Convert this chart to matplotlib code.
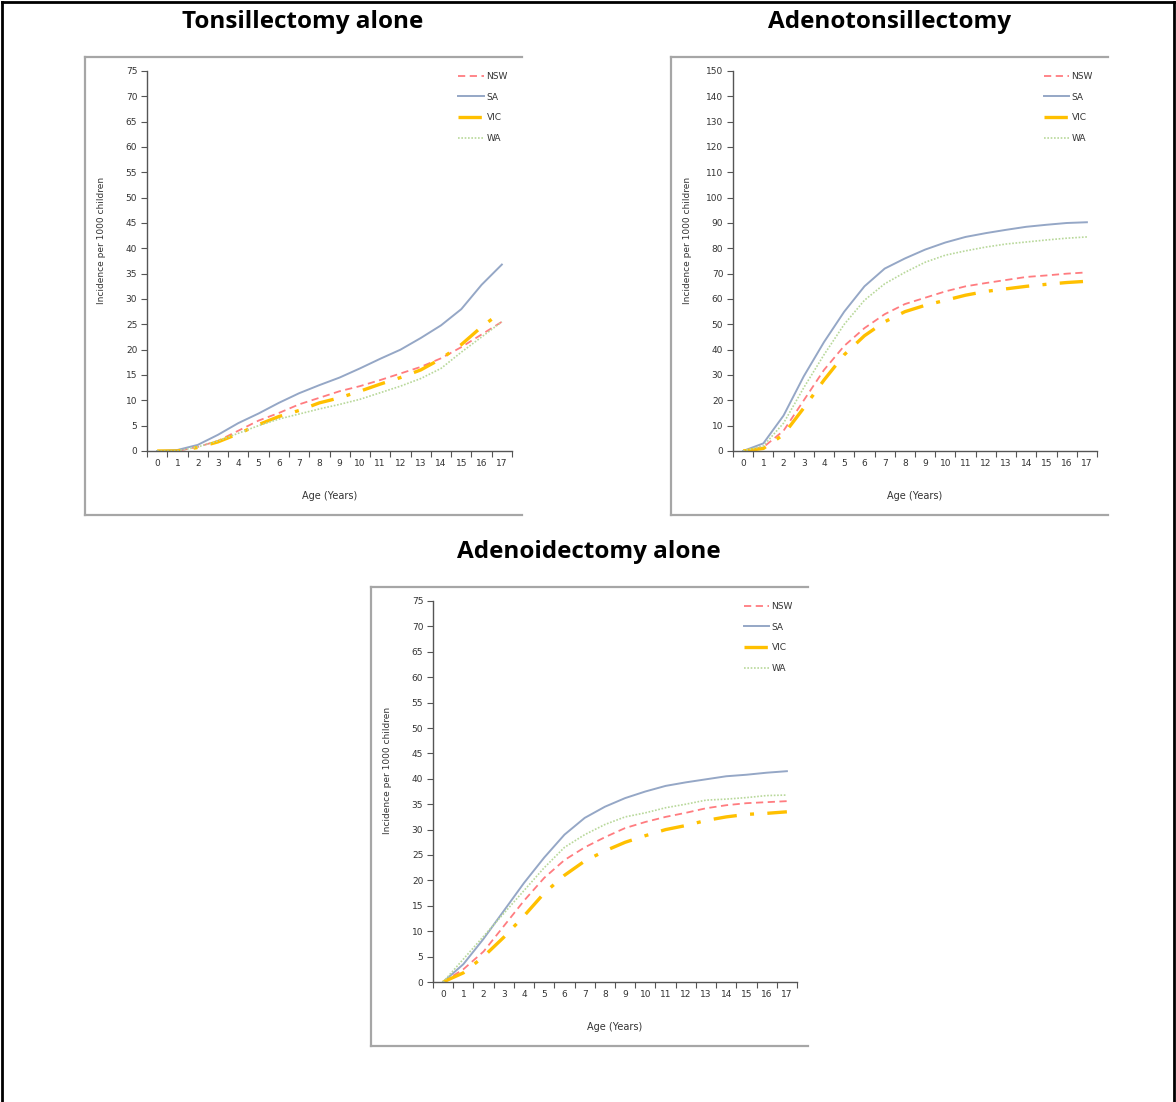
import matplotlib
matplotlib.use("Agg")
import matplotlib.pyplot as plt
from matplotlib.lines import Line2D

ages = list(range(18))
age_labels = [str(a) for a in ages]
series_names = ["NSW", "SA", "VIC", "WA"]

# Tonsillectomy alone
ton_nsw = [0, 0, 0.8, 2, 4, 6, 7.5, 9.2, 10.5, 11.8, 12.8, 14, 15.3, 16.6, 18.3, 20.5, 23, 25.5]
ton_sa = [0, 0.2, 1.2, 3.2, 5.5, 7.4, 9.5, 11.4, 13, 14.5, 16.3, 18.2, 20, 22.3, 24.8, 28, 32.8, 36.8]
ton_vic = [0, 0, 0.7, 1.8, 3.4, 5.2, 6.8, 8, 9.5, 10.5, 11.8, 13.2, 14.5, 16, 18.2, 21, 24.5, 27.5]
ton_wa = [0, 0, 0.8, 2, 3.5, 5, 6.3, 7.3, 8.3, 9.2, 10.2, 11.5, 12.8, 14.3, 16.3, 19.5, 22.5, 25.5]

# Adenotonsillectomy
at_nsw = [0, 1.5, 8, 20, 32, 41.5, 48.5, 54, 58, 60.5, 63, 65, 66.3, 67.5, 68.7, 69.3, 70, 70.5]
at_sa = [0, 3, 14, 29.5, 43, 55, 65, 72, 76, 79.5, 82.3, 84.5, 86, 87.3, 88.5, 89.3, 90, 90.3]
at_vic = [0, 1, 6.5, 17, 28, 38, 45.5, 51, 55, 57.5, 59.5, 61.5, 63, 64, 65, 65.8, 66.5, 67]
at_wa = [0, 2, 11, 25, 38, 50, 59.5, 66, 70.5, 74.5, 77.3, 79, 80.5, 81.7, 82.5, 83.3, 84, 84.5]

# Adenoidectomy alone
ad_nsw = [0, 2.5, 6, 11, 16, 20.5, 24, 26.5, 28.5, 30.3, 31.5, 32.5, 33.3, 34.2, 34.8, 35.2, 35.4, 35.6]
ad_sa = [0, 3.5, 8.5, 14, 19.5, 24.5, 29, 32.3, 34.5, 36.2, 37.5, 38.6, 39.3, 39.9, 40.5, 40.8, 41.2, 41.5]
ad_vic = [0, 1.8, 5, 8.8, 13, 17.5, 21, 23.8, 25.8, 27.5, 28.8, 30, 30.8, 31.8, 32.5, 33, 33.2, 33.5]
ad_wa = [0, 4.5, 9, 13.5, 18, 22.5, 26.5, 29, 31, 32.5, 33.3, 34.3, 35, 35.8, 36, 36.3, 36.7, 36.8]

titles = ["Tonsillectomy alone", "Adenotonsillectomy", "Adenoidectomy alone"]
panels = [
    (ton_nsw, ton_sa, ton_vic, ton_wa),
    (at_nsw, at_sa, at_vic, at_wa),
    (ad_nsw, ad_sa, ad_vic, ad_wa),
]
ymaxes = [75, 150, 75]
ysteps = [5, 10, 5]

styles = {
    "NSW": dict(color="#ff7c80", lw=1.3, dashes=(4, 2.5)),
    "SA": dict(color="#95a7c6", lw=1.4, linestyle="-"),
    "VIC": dict(color="#ffc000", lw=2.4, dashes=(7, 4, 1.2, 4)),
    "WA": dict(color="#b8d89a", lw=1.2, dashes=(1, 1)),
}

W, H = 1176, 1102
fig = plt.figure(figsize=(W / 100, H / 100), dpi=100)
fig.patch.set_facecolor("white")

def fx(px):
    return px / W

def fy(py):
    return 1 - py / H

# outer border
fig.add_artist(Line2D([fx(2), fx(1174)], [fy(2), fy(2)], color="black", lw=2, transform=fig.transFigure))
fig.add_artist(Line2D([fx(2), fx(2)], [fy(2), fy(1102)], color="black", lw=2, transform=fig.transFigure))
fig.add_artist(Line2D([fx(1174), fx(1174)], [fy(2), fy(1102)], color="black", lw=2, transform=fig.transFigure))

# panel geometry (pixels): frame, axes box, title centre
geo = [
    dict(frame=(85, 57, 522, 515), ax=(147, 71, 512, 451), title=(303, 22)),
    dict(frame=(671, 57, 1108, 515), ax=(733, 71, 1097, 451), title=(889, 22)),
    dict(frame=(371, 587, 808, 1046), ax=(433, 601, 797, 982), title=(589, 552)),
]

for g, title, data, ymax, ystep in zip(geo, titles, panels, ymaxes, ysteps):
    x0, y0, x1, y1 = g["frame"]
    fc = "#a6a6a6"
    fig.add_artist(Line2D([fx(x0), fx(x1)], [fy(y0), fy(y0)], color=fc, lw=1.6, transform=fig.transFigure))
    fig.add_artist(Line2D([fx(x0), fx(x0)], [fy(y0), fy(y1)], color=fc, lw=1.6, transform=fig.transFigure))
    fig.add_artist(Line2D([fx(x0), fx(x1)], [fy(y1), fy(y1)], color=fc, lw=1.6, transform=fig.transFigure))

    ax0, ay0, ax1, ay1 = g["ax"]
    ax = fig.add_axes([fx(ax0), fy(ay1), fx(ax1) - fx(ax0), (ay1 - ay0) / H])
    for name, vals in zip(series_names, data):
        st = dict(styles[name])
        ax.plot(ages, vals, label=name, **st)
    ax.set_xlim(-0.5, 17.5)
    ax.set_ylim(0, ymax)
    ax.set_yticks(list(range(0, ymax + 1, ystep)))
    ax.set_xticks(ages)
    ax.set_xticklabels(age_labels)
    ax.set_xticks([a - 0.5 for a in ages] + [17.5], minor=True)
    ax.tick_params(axis="x", which="major", length=0, labelsize=6.5, pad=6, colors="#333333")
    ax.tick_params(axis="x", which="minor", length=4, width=0.8, color="#555555", direction="out")
    ax.tick_params(axis="y", which="major", length=4, width=0.8, labelsize=6.5, pad=3, color="#555555",
                   labelcolor="#333333")
    for s in ["top", "right"]:
        ax.spines[s].set_visible(False)
    for s in ["left", "bottom"]:
        ax.spines[s].set_color("#555555")
        ax.spines[s].set_linewidth(1.0)
    ax.set_xlabel("Age (Years)", fontsize=7, color="#333333", labelpad=16)
    ax.set_ylabel("Incidence per 1000 children", fontsize=6.5, color="#333333")
    ax.yaxis.set_label_coords(-0.113, 0.555)
    leg = ax.legend(loc="upper left", bbox_to_anchor=(0.831, 1.019), frameon=False, fontsize=6.5,
                    handlelength=2.8, labelspacing=1.3, handletextpad=0.3)
    for t in leg.get_texts():
        t.set_color("#333333")

    tx, ty = g["title"]
    fig.text(fx(tx), fy(ty), title, ha="center", va="center", fontsize=17.5, fontweight="bold",
             family="Open Sans")

fig.savefig("out.png", dpi=100, facecolor="white")
